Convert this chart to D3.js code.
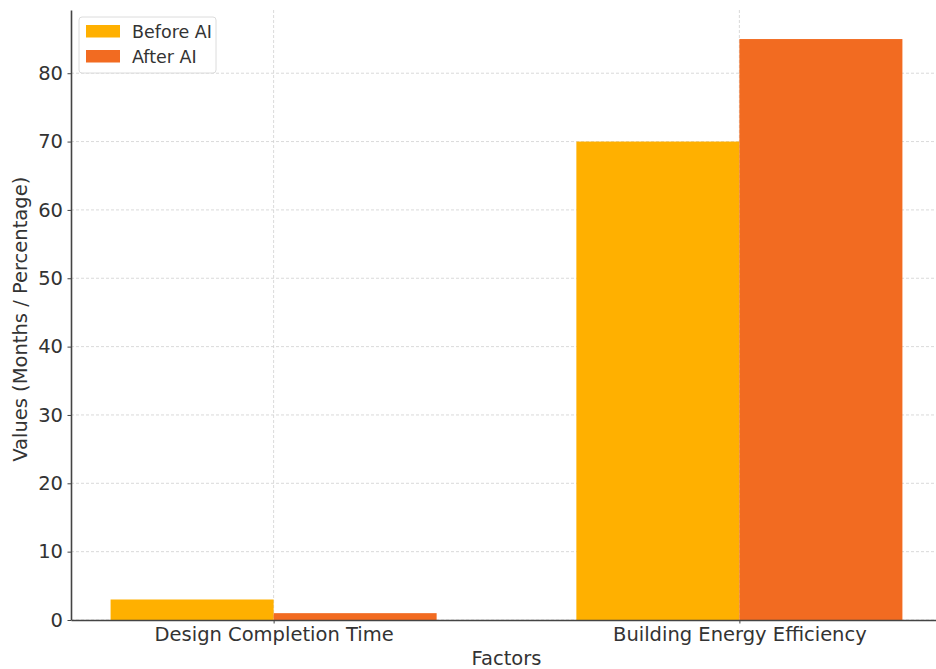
<!DOCTYPE html>
<html>
<head>
<meta charset="utf-8">
<script src="https://cdn.jsdelivr.net/npm/d3@7"></script>
<style>
  body { margin: 0; background: #fff; }
  svg { display: block; font-family: "DejaVu Sans", sans-serif; }
</style>
</head>
<body>
<div id="chart"></div>
<script>
// chart data
var categories = ["Design Completion Time", "Building Energy Efficiency"];
var seriesNames = ["Before AI", "After AI"];
var beforeAI = [3, 70];
var afterAI = [1, 85];
var colors = ["#ffb000", "#f26b21"];
var yTicks = [0, 10, 20, 30, 40, 50, 60, 70, 80];

var W = 936, H = 669;
var margin = {top: 10, right: -6, bottom: 49, left: 71},
    width = W - margin.left - margin.right,
    height = H - margin.top - margin.bottom;

var svg = d3.select("#chart")
  .append("svg")
    .attr("width", W)
    .attr("height", H)
  .append("g")
    .attr("transform", "translate(" + margin.left + "," + margin.top + ")");

// x in "category units" like matplotlib: index 0, 1 with bar width 0.35
var barW = 0.35;
var x = d3.scaleLinear()
  .domain([-0.435, 1.435])
  .range([0, width]);

var y = d3.scaleLinear()
  .domain([0, 89.25])
  .range([height, 0]);

// grid
svg.append("g")
  .selectAll("line.hgrid")
  .data(yTicks)
  .enter().append("line")
    .attr("x1", 0).attr("x2", width)
    .attr("y1", function(d) { return y(d); })
    .attr("y2", function(d) { return y(d); })
    .attr("stroke", "#d0d0d0")
    .attr("stroke-width", 0.8)
    .attr("stroke-dasharray", "3,2");

svg.append("g")
  .selectAll("line.vgrid")
  .data(categories)
  .enter().append("line")
    .attr("x1", function(d, i) { return x(i); })
    .attr("x2", function(d, i) { return x(i); })
    .attr("y1", 0).attr("y2", height)
    .attr("stroke", "#d0d0d0")
    .attr("stroke-width", 0.8)
    .attr("stroke-dasharray", "3,2");

// bars
var series = [beforeAI, afterAI];
series.forEach(function(vals, s) {
  svg.append("g")
    .selectAll("rect")
    .data(vals)
    .enter().append("rect")
      .attr("x", function(d, i) { return x(i + (s === 0 ? -barW : 0)); })
      .attr("y", function(d) { return y(d); })
      .attr("width", x(barW) - x(0))
      .attr("height", function(d) { return y(0) - y(d); })
      .attr("fill", colors[s]);
});

// axes
var xAxis = svg.append("g")
  .attr("transform", "translate(0," + height + ")")
  .call(d3.axisBottom(x).tickValues([0, 1]).tickFormat(function(d) { return categories[d]; }).tickSize(3.5).tickSizeOuter(0));
var yAxis = svg.append("g")
  .call(d3.axisLeft(y).tickValues(yTicks).tickSize(3.5).tickSizeOuter(0));

[xAxis, yAxis].forEach(function(ax) {
  ax.select(".domain").attr("stroke", "#444").attr("stroke-width", 1.6);
  ax.selectAll(".tick line").attr("stroke", "#444");
  ax.selectAll("text")
    .attr("fill", "#333")
    .style("font-size", "19.5px")
    .style("font-family", "DejaVu Sans, sans-serif");
});
xAxis.selectAll("text").attr("y", 5).attr("dy", "0.8em");
yAxis.selectAll("text").attr("x", -8);

// axis labels
svg.append("text")
  .attr("x", x(0.5))
  .attr("y", height + 45)
  .attr("text-anchor", "middle")
  .attr("fill", "#333")
  .style("font-size", "19.5px")
  .text("Factors");

svg.append("text")
  .attr("transform", "translate(" + (-44) + "," + (y(44)) + ") rotate(-90)")
  .attr("text-anchor", "middle")
  .attr("fill", "#333")
  .style("font-size", "19.5px")
  .text("Values (Months / Percentage)");

// legend
var legend = svg.append("g").attr("transform", "translate(8,7)");
legend.append("rect")
  .attr("width", 137).attr("height", 56)
  .attr("rx", 3)
  .attr("fill", "#fff")
  .attr("fill-opacity", 0.8)
  .attr("stroke", "#dcdcdc");
seriesNames.forEach(function(name, i) {
  var row = legend.append("g").attr("transform", "translate(7," + (8 + i * 25) + ")");
  row.append("rect").attr("width", 34).attr("height", 12.5).attr("fill", colors[i]);
  row.append("text")
    .attr("x", 46).attr("y", 12.5)
    .attr("fill", "#333")
    .style("font-size", "17.5px")
    .text(name);
});
</script>
</body>
</html>
